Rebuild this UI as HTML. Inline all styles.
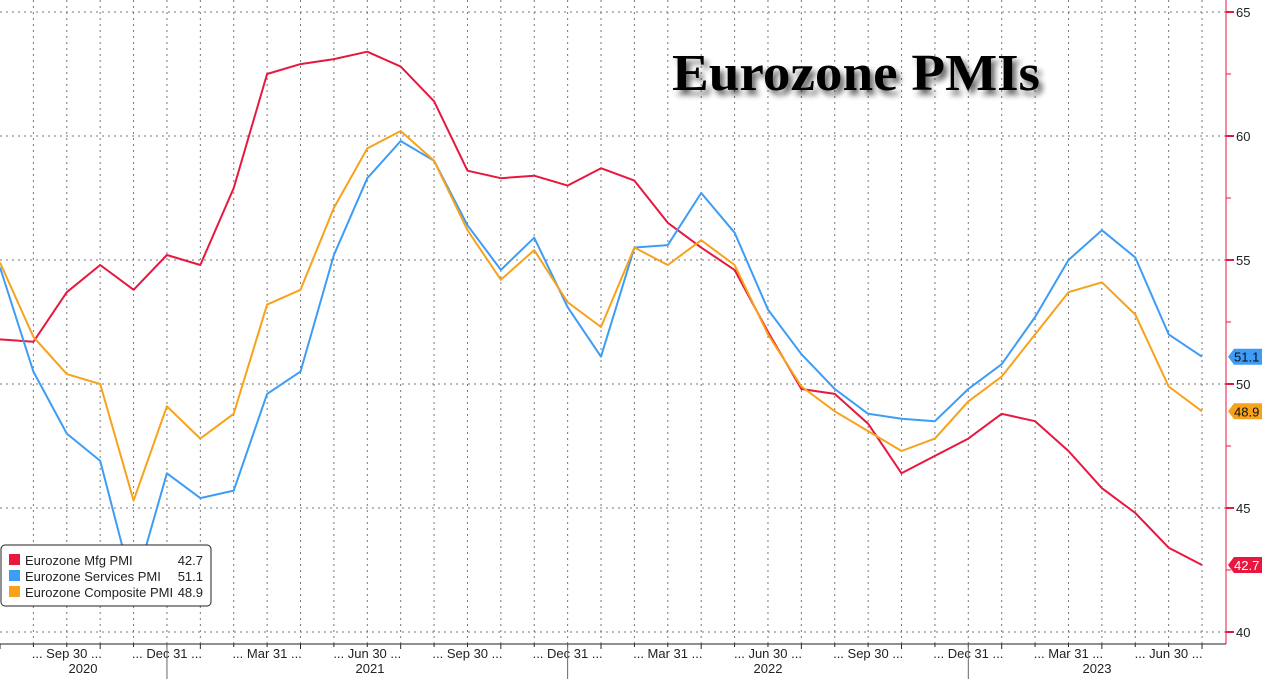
<!DOCTYPE html>
<html><head><meta charset="utf-8"><style>
html,body{margin:0;padding:0;background:#fff;}
svg{display:block;font-family:"Liberation Sans",sans-serif;}
</style></head><body>
<svg id="c" width="1262" height="679" viewBox="0 0 1262 679" xmlns="http://www.w3.org/2000/svg">
<rect width="1262" height="679" fill="#fff"/>
<g id="grid"></g>
<defs><filter id="sh" x="-10%" y="-30%" width="130%" height="180%"><feGaussianBlur in="SourceAlpha" stdDeviation="3"/><feOffset dx="4" dy="5"/><feComponentTransfer><feFuncA type="linear" slope="0.6"/></feComponentTransfer><feMerge><feMergeNode/><feMergeNode in="SourceGraphic"/></feMerge></filter></defs>
<text x="672" y="90" font-family="Liberation Serif,serif" font-weight="bold" font-size="52" textLength="368" lengthAdjust="spacingAndGlyphs" filter="url(#sh)" fill="#000">Eurozone PMIs</text>
<g id="series"></g>
<line x1="1226" y1="0" x2="1226" y2="644" stroke="#e8173f" stroke-width="1"/>
<line x1="0" y1="644" x2="1226" y2="644" stroke="#222" stroke-width="1"/>
<g id="axis" font-size="13" fill="#222"></g>
<g font-size="13">
<rect x="1" y="545" width="210" height="61" rx="4" fill="#fff" stroke="#222"/>
<rect x="9" y="554" width="11" height="11" fill="#e8173f"/>
<rect x="9" y="570" width="11" height="11" fill="#3d9cf5"/>
<rect x="9" y="586" width="11" height="11" fill="#f7a21b"/>
<text x="25" y="565" fill="#222">Eurozone Mfg PMI</text><text x="203" y="565" text-anchor="end" fill="#222">42.7</text>
<text x="25" y="581" fill="#222">Eurozone Services PMI</text><text x="203" y="581" text-anchor="end" fill="#222">51.1</text>
<text x="25" y="597" fill="#222">Eurozone Composite PMI</text><text x="203" y="597" text-anchor="end" fill="#222">48.9</text>
</g>
</svg>
<script>
const NS="http://www.w3.org/2000/svg";
function el(p,t,a,txt){const e=document.createElementNS(NS,t);for(const k in a)e.setAttribute(k,a[k]);if(txt!=null)e.textContent=txt;p.appendChild(e);return e;}
const X=i=>i*33.39, Y=v=>632-(v-40)*24.8;
const g=document.getElementById('grid');
for(let i=1;i<=36;i++){el(g,'line',{x1:X(i),y1:0,x2:X(i),y2:644,stroke:'#777','stroke-width':1,'stroke-dasharray':'2,4'});}
for(let v=40;v<=65;v+=5){el(g,'line',{x1:0,y1:Y(v),x2:1226,y2:Y(v),stroke:'#777','stroke-width':1,'stroke-dasharray':'2,4'});}
const mfg=[51.8,51.7,53.7,54.8,53.8,55.2,54.8,57.9,62.5,62.9,63.1,63.4,62.8,61.4,58.6,58.3,58.4,58.0,58.7,58.2,56.5,55.5,54.6,52.1,49.8,49.6,48.4,46.4,47.1,47.8,48.8,48.5,47.3,45.8,44.8,43.4,42.7];
const srv=[54.7,50.5,48.0,46.9,41.7,46.4,45.4,45.7,49.6,50.5,55.2,58.3,59.8,59.0,56.4,54.6,55.9,53.1,51.1,55.5,55.6,57.7,56.1,53.0,51.2,49.8,48.8,48.6,48.5,49.8,50.8,52.7,55.0,56.2,55.1,52.0,51.1];
const cmp=[54.9,51.9,50.4,50.0,45.3,49.1,47.8,48.8,53.2,53.8,57.1,59.5,60.2,59.0,56.2,54.2,55.4,53.3,52.3,55.5,54.8,55.8,54.8,52.0,49.9,48.9,48.1,47.3,47.8,49.3,50.3,52.0,53.7,54.1,52.8,49.9,48.9];
const s=document.getElementById('series');
[[mfg,'#e8173f'],[srv,'#3d9cf5'],[cmp,'#f7a21b']].forEach(([d,c])=>{
 el(s,'polyline',{points:d.map((v,i)=>X(i).toFixed(1)+','+Y(v).toFixed(1)).join(' '),fill:'none',stroke:c,'stroke-width':2,'stroke-linejoin':'round'});
});
const a=document.getElementById('axis');
for(let v=40;v<=65;v+=5){const y=Y(v);el(a,'line',{x1:1226,y1:y,x2:1234,y2:y,stroke:'#e8173f','stroke-width':2});el(a,'text',{x:1236,y:y+5},String(v));
 if(v<65){el(a,'line',{x1:1226,y1:Y(v+2.5),x2:1231,y2:Y(v+2.5),stroke:'#e8173f'});}}
[[51.1,'#3d9cf5','#111'],[48.9,'#f7a21b','#111'],[42.7,'#e8173f','#fff']].forEach(([v,c,tc])=>{const y=Y(v);
 el(a,'path',{d:`M1228 ${y} L1234 ${y-8} L1262 ${y-8} L1262 ${y+8} L1234 ${y+8} Z`,fill:c});
 el(a,'text',{x:1234,y:y+5,fill:tc},v.toFixed(1));});
for(let i=0;i<=36;i++){el(a,'line',{x1:X(i),y1:644,x2:X(i),y2:i%3==0?649:647,stroke:'#222'});}
const labs=[[2,'Sep 30'],[5,'Dec 31'],[8,'Mar 31'],[11,'Jun 30'],[14,'Sep 30'],[17,'Dec 31'],[20,'Mar 31'],[23,'Jun 30'],[26,'Sep 30'],[29,'Dec 31'],[32,'Mar 31'],[35,'Jun 30']];
labs.forEach(([i,t])=>{el(a,'text',{x:X(i),y:658,'text-anchor':'middle'},'...  '+t+' ...');});
[[83,'2020'],[370,'2021'],[768,'2022'],[1097,'2023']].forEach(([x,t])=>el(a,'text',{x:x,y:673,'text-anchor':'middle'},t));
[5,17,29].forEach(i=>el(a,'line',{x1:X(i),y1:644,x2:X(i),y2:679,stroke:'#666'}));
</script>
</body></html>
